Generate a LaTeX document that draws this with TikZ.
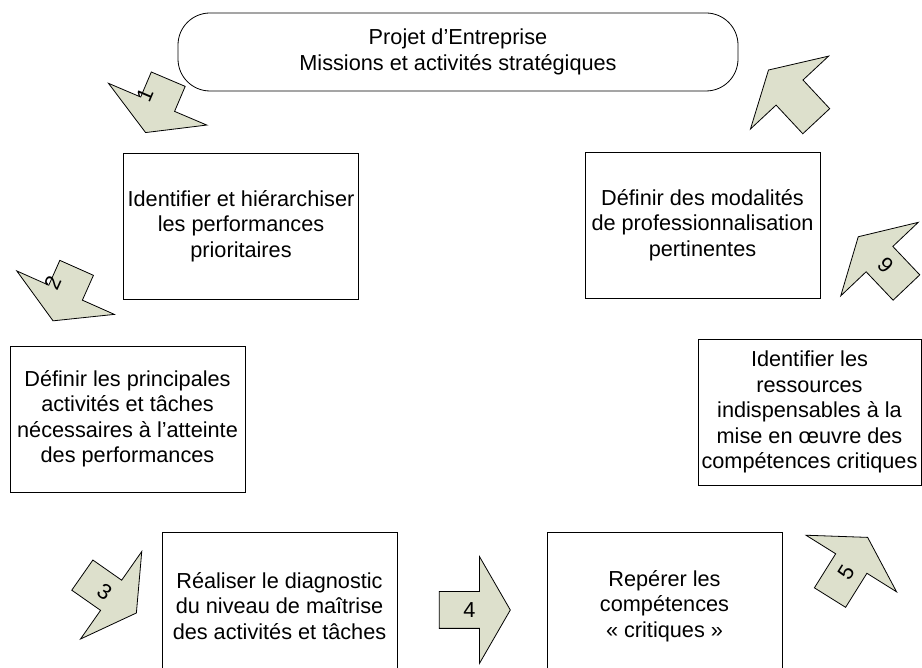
\documentclass[tikz,border=0pt]{standalone}
\usepackage{fontspec}
\setmainfont{Liberation Sans}
\usetikzlibrary{shapes.arrows,positioning}
\definecolor{arrowfill}{RGB}{221,224,204}

\tikzset{
  box/.style={draw, line width=0.8pt, align=center, minimum width=235pt,
    minimum height=146pt, inner sep=2pt, font=\fontsize{21.7pt}{25.5pt}\selectfont},
  steparrow/.style={draw, fill=arrowfill, line width=0.8pt, single arrow,
    single arrow head extend=35pt, single arrow tip angle=120,
    text height=16pt, text depth=0pt, inner xsep=2pt, inner ysep=10pt,
    font=\fontsize{21.7pt}{25.5pt}\selectfont},
}

\begin{document}
\begin{tikzpicture}[x=1pt,y=1pt]
	\useasboundingbox (0,0) rectangle (922,668);

	% the project and the six boxes
	\node[box, minimum width=560pt, minimum height=78pt, rounded corners=32pt] (projet) at (458,616)
		{Projet d’Entreprise\\Missions et activités stratégiques};
	\node[box] (hier) at (241,442) {Identifier et hiérarchiser\\les performances\\prioritaires};
	\node[box] (activ) at (127.5,249) {Définir les principales\\activités et tâches\\nécessaires à l’atteinte\\des performances};
	\node[box, minimum height=148pt] (diag) at (279.5,62) {Réaliser le diagnostic\\du niveau de maîtrise\\des activités et tâches};
	\node[box, minimum height=148pt] (reper) at (664.5,62) {Repérer les\\compétences\\«~critiques~»};
	\node[box, minimum width=223pt] (ressour) at (809.5,256) {Identifier les\\ressources\\indispensables à la\\mise en œuvre des\\compétences critiques};
	\node[box] (modal) at (702.5,443) {Définir des modalités\\de professionnalisation\\pertinentes};

	% numbered steps
	\node[steparrow, minimum height=58pt, rotate=247] (aone) at (159,567) {\rotatebox{180}{1}};
	\node[steparrow, minimum height=58pt, rotate=246] (atwo) at (67,378.5) {\rotatebox{180}{2}};
	\node[steparrow, minimum height=66pt, rotate=-35] (athree) at (105,77) {3};
	\node[steparrow, minimum height=71pt] (afour) at (469.5,58) {4};
	\node[steparrow, minimum height=71pt, rotate=58] (afive) at (846,96) {5};
	\node[steparrow, minimum height=70pt, rotate=133.5] (asix) at (886,402) {6};
	\node[steparrow, minimum height=70pt, rotate=133] (aseven) at (796,568.5) {};
\end{tikzpicture}
\end{document}
